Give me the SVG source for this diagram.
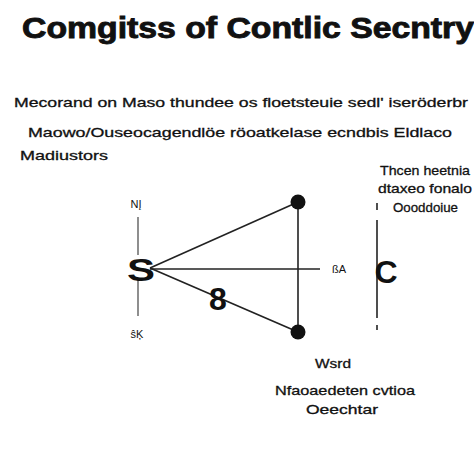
<svg xmlns="http://www.w3.org/2000/svg" width="474" height="474" viewBox="0 0 474 474">
<style>
.t{font-family:"Liberation Sans",Arial,sans-serif;fill:#111}
.title{font-size:29px;font-weight:bold;stroke:#111;stroke-width:0.9}
.body{font-size:13px;stroke:#111;stroke-width:0.3}
.sm{font-size:11px}
.big{font-size:32px;font-weight:bold}
.ln{stroke:#222;stroke-width:1.6;fill:none}
.thin{stroke:#444;stroke-width:1.2;fill:none}
</style>
<rect width="474" height="474" fill="#fff"/>
<text class="t title" x="22" y="38" textLength="452" lengthAdjust="spacingAndGlyphs">Comgitss of Contlic Secntry</text>
<text class="t body" x="14" y="107" textLength="454" lengthAdjust="spacingAndGlyphs">Mecorand on Maso thundee os floetsteuie sedl' iseröderbr</text>
<text class="t body" x="28" y="137" textLength="424" lengthAdjust="spacingAndGlyphs">Maowo/Ouseocagendlöe röoatkelase ecndbis Eldlaco</text>
<text class="t body" x="20" y="160" textLength="88" lengthAdjust="spacingAndGlyphs">Madiustors</text>
<g id="right-note">
<text class="t body" x="380" y="175" textLength="90" lengthAdjust="spacingAndGlyphs">Thcen heetnia</text>
<text class="t body" x="378" y="193" textLength="94" lengthAdjust="spacingAndGlyphs">dtaxeo fonalo</text>
<text class="t body" x="393" y="212" textLength="65" lengthAdjust="spacingAndGlyphs">Oooddoiue</text>
</g>
<g id="connectors">
<line class="thin" x1="138" y1="217" x2="138" y2="255"/>
<line class="thin" x1="138" y1="280" x2="138" y2="316"/>
<line class="ln" x1="150" y1="268" x2="298" y2="202"/>
<line class="ln" x1="150" y1="268" x2="298" y2="332"/>
<line class="ln" x1="150" y1="269" x2="320" y2="269"/>
<line class="ln" x1="298" y1="202" x2="298" y2="332"/>
<line class="ln" x1="377" y1="220" x2="377" y2="318"/>
<line class="ln" x1="377" y1="203" x2="377" y2="210"/>
<line class="ln" x1="377" y1="325" x2="377" y2="330"/>
</g>
<g id="node-S">
<text class="t big" x="141" y="281" text-anchor="middle" textLength="28" lengthAdjust="spacingAndGlyphs">S</text>
<text class="t sm" x="136" y="208" text-anchor="middle">NĮ</text>
<text class="t sm" x="137" y="338" text-anchor="middle">ŝĶ</text>
</g>
<g id="node-top"><circle cx="298" cy="202" r="7.5" fill="#111"/></g>
<g id="node-bottom"><circle cx="298" cy="332" r="7.5" fill="#111"/></g>
<g id="label-8"><text class="t big" x="218" y="310" text-anchor="middle">8</text></g>
<g id="label-BA"><text class="t sm" x="339" y="273" text-anchor="middle">ßA</text></g>
<g id="node-C"><text class="t big" x="386" y="283" text-anchor="middle">C</text></g>
<g id="bottom-note">
<text class="t body" x="333" y="368" text-anchor="middle" textLength="36" lengthAdjust="spacingAndGlyphs">Wsrd</text>
<text class="t body" x="275" y="395" textLength="140" lengthAdjust="spacingAndGlyphs">Nfaoaedeten cvtioa</text>
<text class="t body" x="306" y="414" textLength="72" lengthAdjust="spacingAndGlyphs">Oeechtar</text>
</g>
</svg>
